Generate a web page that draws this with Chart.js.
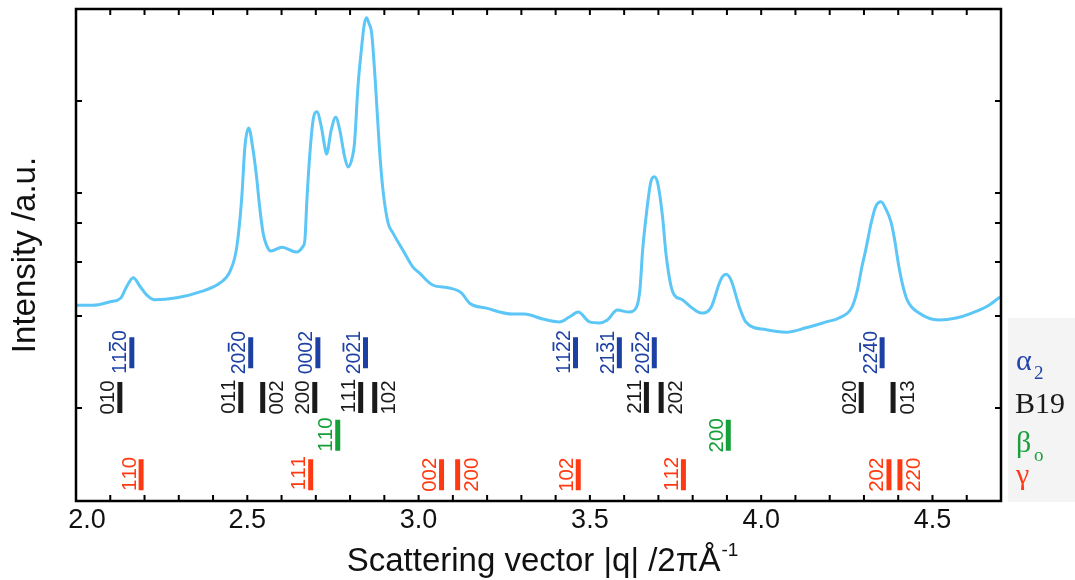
<!DOCTYPE html>
<html>
<head>
<meta charset="utf-8">
<script src="https://cdn.jsdelivr.net/npm/chart.js@4.4.1/dist/chart.umd.min.js"></script>
<style>
  html, body { margin: 0; padding: 0; background: #fff; }
  #wrap { width: 1075px; height: 580px; }
</style>
</head>
<body>
<div id="wrap"><canvas id="xrd" width="1075" height="580"></canvas></div>
<script>
// diffraction pattern: scattering vector |q|/2pi (1/A) vs intensity (a.u.)
const qValues = [
  2.000, 2.050, 2.100, 2.130, 2.148, 2.167, 2.187, 2.206, 2.230, 2.294, 2.362, 2.420,
  2.449, 2.469, 2.484, 2.493, 2.504, 2.517, 2.527, 2.536, 2.546, 2.556, 2.569, 2.601,
  2.644, 2.662, 2.668, 2.674, 2.682, 2.692, 2.703, 2.716, 2.726, 2.731, 2.745, 2.758,
  2.770, 2.784, 2.794, 2.807, 2.813, 2.823, 2.833, 2.841, 2.848, 2.855, 2.863, 2.874,
  2.886, 2.896, 2.911, 2.925, 2.954, 2.983, 3.003, 3.041, 3.090, 3.125, 3.149, 3.198,
  3.274, 3.309, 3.362, 3.411, 3.440, 3.466, 3.499, 3.528, 3.551, 3.580, 3.615, 3.636,
  3.646, 3.654, 3.664, 3.678, 3.688, 3.698, 3.712, 3.722, 3.737, 3.746, 3.770, 3.799,
  3.825, 3.854, 3.878, 3.887, 3.898, 3.912, 3.936, 3.955, 4.015, 4.073, 4.131, 4.190,
  4.227, 4.265, 4.281, 4.294, 4.305, 4.321, 4.334, 4.350, 4.363, 4.379, 4.388, 4.402,
  4.412, 4.426, 4.461, 4.519, 4.569, 4.615, 4.665, 4.697
];
const intensity = [
  39.8, 39.8, 40.5, 41.2, 43.6, 45.4, 43.6, 41.9, 40.9, 41.3, 42.5, 44.3,
  46.6, 51.5, 61.8, 72.0, 75.8, 71.3, 65.9, 59.8, 54.5, 52.0, 50.8, 51.6,
  50.6, 51.7, 53.0, 61.2, 70.0, 77.4, 79.1, 76.1, 72.0, 70.5, 75.4, 78.0,
  75.4, 70.0, 67.9, 70.0, 72.8, 84.2, 91.7, 96.7, 98.2, 97.1, 95.1, 84.9,
  71.3, 63.2, 56.5, 54.5, 51.0, 47.6, 46.3, 43.9, 43.3, 42.3, 40.2, 39.2,
  38.0, 38.0, 37.0, 36.4, 37.4, 38.4, 36.4, 36.2, 36.8, 38.8, 38.4, 39.4,
  42.9, 51.0, 57.8, 64.9, 65.9, 64.6, 57.8, 50.3, 43.6, 41.9, 40.9, 39.2,
  38.2, 39.4, 44.3, 45.6, 46.1, 44.9, 39.5, 36.4, 34.8, 34.3, 35.2, 36.4,
  37.2, 39.4, 42.9, 47.6, 51.0, 56.5, 59.8, 60.8, 59.5, 56.7, 53.7, 47.6,
  44.2, 40.9, 38.2, 36.8, 37.2, 38.2, 39.8, 41.5
];

const yTickValues = [18.9, 37.6, 48.6, 56.5, 62.6, 81.3];
const xTickLabels = ['2.0', '2.5', '3.0', '3.5', '4.0', '4.5'];

// reflection markers per phase (U+0305 = overbar on preceding index)
const alpha2Q = [2.163, 2.510, 2.706, 2.845, 3.458, 3.586, 3.688, 4.353];
const alpha2Hkl = ['112\u03050', '202\u03050', '0002', '202\u03051', '112\u03052', '213\u03051', '202\u03052', '224\u03050'];
const alpha2Side = ['l', 'l', 'l', 'l', 'l', 'l', 'l', 'l'];

const b19Q = [2.128, 2.481, 2.545, 2.697, 2.831, 2.872, 3.665, 3.708, 4.292, 4.385];
const b19Hkl = ['010', '011', '002', '200', '111', '102', '211', '202', '020', '013'];
const b19Side = ['l', 'l', 'r', 'l', 'l', 'r', 'l', 'r', 'l', 'r'];

const betaQ = [2.764, 3.904];
const betaHkl = ['110', '200'];
const betaSide = ['l', 'l'];

const gammaQ = [2.190, 2.685, 3.067, 3.114, 3.466, 3.773, 4.373, 4.405];
const gammaHkl = ['110', '111', '002', '200', '102', '112', '202', '220'];
const gammaSide = ['l', 'l', 'l', 'r', 'l', 'l', 'l', 'r'];

const phases = [
  { q: alpha2Q, hkl: alpha2Hkl, side: alpha2Side, color: '#1c40a3', row: [27.0, 33.3], font: 19.5 },
  { q: b19Q, hkl: b19Hkl, side: b19Side, color: '#1a1a1a', row: [17.9, 24.2], font: 20.5 },
  { q: betaQ, hkl: betaHkl, side: betaSide, color: '#16a03a', row: [10.2, 16.5], font: 20.5 },
  { q: gammaQ, hkl: gammaHkl, side: gammaSide, color: '#ff3a12', row: [2.2, 8.5], font: 20.5 }
];

function markerSegments(p) {
  const pts = [];
  p.q.forEach(q => {
    pts.push({ x: q, y: p.row[0] }, { x: q, y: p.row[1] }, { x: q, y: null });
  });
  return pts;
}

function drawHkl(ctx, text, x, y, side, color, size) {
  const chars = [];
  for (const ch of text) {
    if (ch === '\u0305') chars[chars.length - 1].bar = true;
    else chars.push({ ch: ch, bar: false });
  }
  ctx.save();
  ctx.font = size + 'px "Liberation Sans", Arial, sans-serif';
  const cap = size * 0.72;
  const w = ctx.measureText(chars.map(c => c.ch).join('')).width;
  ctx.translate(side === 'l' ? x - 5.5 : x + 5.8 + cap, y);
  ctx.rotate(-Math.PI / 2);
  ctx.fillStyle = color;
  ctx.strokeStyle = color;
  ctx.textAlign = 'left';
  ctx.textBaseline = 'alphabetic';
  let cx = -w / 2;
  for (const c of chars) {
    const cw = ctx.measureText(c.ch).width;
    ctx.fillText(c.ch, cx, 0);
    if (c.bar) {
      ctx.lineWidth = 1.8;
      ctx.beginPath();
      ctx.moveTo(cx + 1, -cap - 2.5);
      ctx.lineTo(cx + cw - 1, -cap - 2.5);
      ctx.stroke();
    }
    cx += cw;
  }
  ctx.restore();
}

const framePlugin = {
  id: 'frame',
  beforeDraw(chart) {
    const ctx = chart.ctx;
    ctx.save();
    ctx.fillStyle = '#f4f4f4';
    ctx.fillRect(1008, 318, 67, 184);
    ctx.restore();
  },
  afterDraw(chart) {
    const { ctx, chartArea: a, scales: { x, y } } = chart;
    ctx.save();
    ctx.strokeStyle = '#000';
    ctx.lineWidth = 2.5;
    ctx.strokeRect(a.left, a.top, a.right - a.left, a.bottom - a.top);

    // inward ticks on all four sides
    ctx.lineWidth = 2;
    ctx.beginPath();
    for (let i = 21; i <= 46; i++) {
      const px = x.getPixelForValue(i / 10);
      ctx.moveTo(px, a.bottom); ctx.lineTo(px, a.bottom - 6);
      ctx.moveTo(px, a.top); ctx.lineTo(px, a.top + 6);
    }
    yTickValues.forEach(v => {
      const py = y.getPixelForValue(v);
      ctx.moveTo(a.left, py); ctx.lineTo(a.left + 6, py);
      ctx.moveTo(a.right, py); ctx.lineTo(a.right - 6, py);
    });
    ctx.stroke();

    // tick labels
    ctx.fillStyle = '#111';
    ctx.font = '27px "Liberation Sans", Arial, sans-serif';
    ctx.textAlign = 'center';
    ctx.textBaseline = 'middle';
    xTickLabels.forEach((t, i) => {
      const px = x.getPixelForValue(parseFloat(t)) + (i === 0 ? 11 : 0);
      ctx.fillText(t, px, 521);
    });

    // axis titles
    const titleFont = '33px "Liberation Sans", Arial, sans-serif';
    const supFont = '19px "Liberation Sans", Arial, sans-serif';
    ctx.textBaseline = 'alphabetic';
    ctx.textAlign = 'left';
    const main = 'Scattering vector |q| /2\u03C0\u00C5';
    ctx.font = titleFont;
    const mw = ctx.measureText(main).width;
    ctx.font = supFont;
    const sw = ctx.measureText('-1').width;
    const sx = 542 - (mw + sw) / 2;
    ctx.font = titleFont;
    ctx.fillText(main, sx, 571);
    ctx.font = supFont;
    ctx.fillText('-1', sx + mw + 1, 556);

    ctx.save();
    ctx.font = titleFont;
    ctx.translate(26, 255);
    ctx.rotate(-Math.PI / 2);
    ctx.textAlign = 'center';
    ctx.textBaseline = 'middle';
    ctx.fillText('Intensity /a.u.', 0, 0);
    ctx.restore();

    // hkl labels beside each marker
    phases.forEach(p => {
      const py = y.getPixelForValue((p.row[0] + p.row[1]) / 2);
      p.q.forEach((q, i) => {
        drawHkl(ctx, p.hkl[i], x.getPixelForValue(q), py, p.side[i], p.color, p.font);
      });
    });

    // phase key
    const serif = '"Liberation Serif", "Times New Roman", serif';
    ctx.textAlign = 'left';
    ctx.textBaseline = 'alphabetic';
    ctx.font = '30px ' + serif;
    ctx.fillStyle = '#2343a8';
    ctx.fillText('\u03B1', 1016, 370);
    ctx.font = '19px ' + serif;
    ctx.fillText('2', 1034, 379);
    ctx.font = '30px ' + serif;
    ctx.fillStyle = '#1a1a1a';
    ctx.fillText('B19', 1015, 413);
    ctx.fillStyle = '#19a03c';
    ctx.fillText('\u03B2', 1016, 452);
    ctx.font = '19px ' + serif;
    ctx.fillText('o', 1034, 461);
    ctx.font = '30px ' + serif;
    ctx.fillStyle = '#ff3a1a';
    ctx.fillText('\u03B3', 1016, 484);
    ctx.restore();
  }
};

const datasets = [{
  data: qValues.map((q, i) => ({ x: q, y: intensity[i] })),
  borderColor: '#5cc6f6',
  borderWidth: 3,
  pointRadius: 0,
  cubicInterpolationMode: 'monotone',
  fill: false
}];
phases.forEach(p => {
  datasets.push({
    data: markerSegments(p),
    borderColor: p.color,
    borderWidth: 5,
    borderCapStyle: 'butt',
    pointRadius: 0,
    spanGaps: false,
    tension: 0,
    fill: false
  });
});

new Chart(document.getElementById('xrd'), {
  type: 'line',
  data: { datasets: datasets },
  options: {
    responsive: false,
    animation: false,
    devicePixelRatio: 1,
    layout: { padding: { left: 76, top: 9, right: 74, bottom: 79 } },
    scales: {
      x: { type: 'linear', min: 2.0, max: 4.7, display: false },
      y: { type: 'linear', min: 0, max: 100, display: false }
    },
    plugins: { legend: { display: false }, tooltip: { enabled: false } }
  },
  plugins: [framePlugin]
});
</script>
</body>
</html>
